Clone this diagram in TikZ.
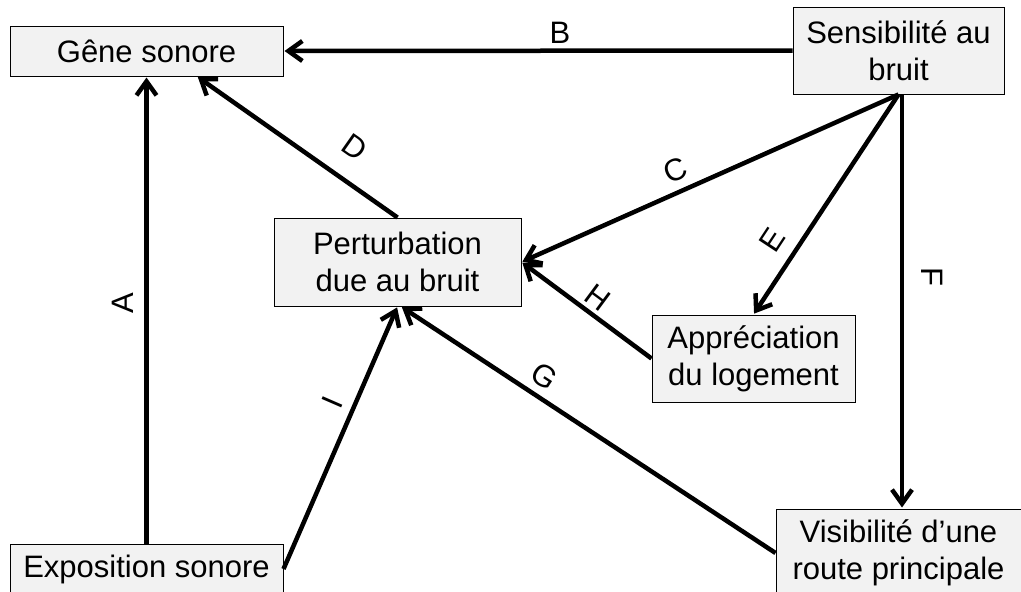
\documentclass[tikz,border=0pt]{standalone}
\usepackage{fontspec}
\setmainfont{Liberation Sans}
\usetikzlibrary{arrows.meta}
\definecolor{boxgray}{HTML}{F2F2F2}
\begin{document}
\begin{tikzpicture}[x=1pt,y=-1pt,
  box/.style={draw=black, line width=1pt, fill=boxgray, inner sep=0pt, align=center,
    font=\fontsize{31}{37}\selectfont},
  link/.style={line width=4.5pt, -{Straight Barb[length=14pt,width=20pt]}, shorten >=1pt},
  lab/.style={font=\fontsize{31}{37}\selectfont, inner sep=0pt, sloped}]
\useasboundingbox (0,0) rectangle (1021,592);
\clip (0,0) rectangle (1021,592);
\node[box, minimum width=273pt, minimum height=50pt] (gene) at (146.5,51) {Gêne sonore};
\node[box, minimum width=211pt, minimum height=87pt] (sens) at (898.5,50.5) {Sensibilité au\\bruit};
\node[box, minimum width=247pt, minimum height=88pt] (pert) at (397.5,262) {Perturbation\\due au bruit};
\node[box, minimum width=203pt, minimum height=87pt] (appr) at (753.5,358.5) {Appréciation\\du logement};
\node[box, minimum width=245pt, minimum height=88pt] (visi) at (898.5,553) {Visibilité d’une\\route principale};
\node[box, minimum width=273pt, minimum height=50pt] (expo) at (146.5,569) {Exposition sonore};

\draw[link] (expo.north) -- node[lab, pos=0.515, yshift=23.5pt] {A} (gene.south);
\draw[link] (sens.west) -- node[lab, pos=0.457, yshift=18pt] {B} (gene.east);
\draw[link] (sens.south) -- node[lab, pos=0.569, yshift=21.5pt] {C} (pert.east);
\draw[link] (pert.north) -- node[lab, pos=0.309, yshift=33pt] {D} ([xshift=50.5pt]gene.south);
\draw[link] (sens.south) -- node[lab, pos=0.724, yshift=25.7pt] {E} (appr.north);
\draw[link] ([xshift=3.5pt]sens.south) -- node[lab, pos=0.44, yshift=30pt] {F} ([xshift=3.5pt]visi.north);
\draw[link] (visi.west) -- node[lab, pos=0.646, yshift=20.5pt] {G} ([xshift=3.5pt]pert.south);
\draw[link] (appr.west) -- node[lab, pos=0.49, yshift=17.5pt] {H} (pert.east);
\draw[link] (expo.east) -- node[lab, pos=0.604, yshift=21.7pt] {I} (pert.south);
\end{tikzpicture}
\end{document}
